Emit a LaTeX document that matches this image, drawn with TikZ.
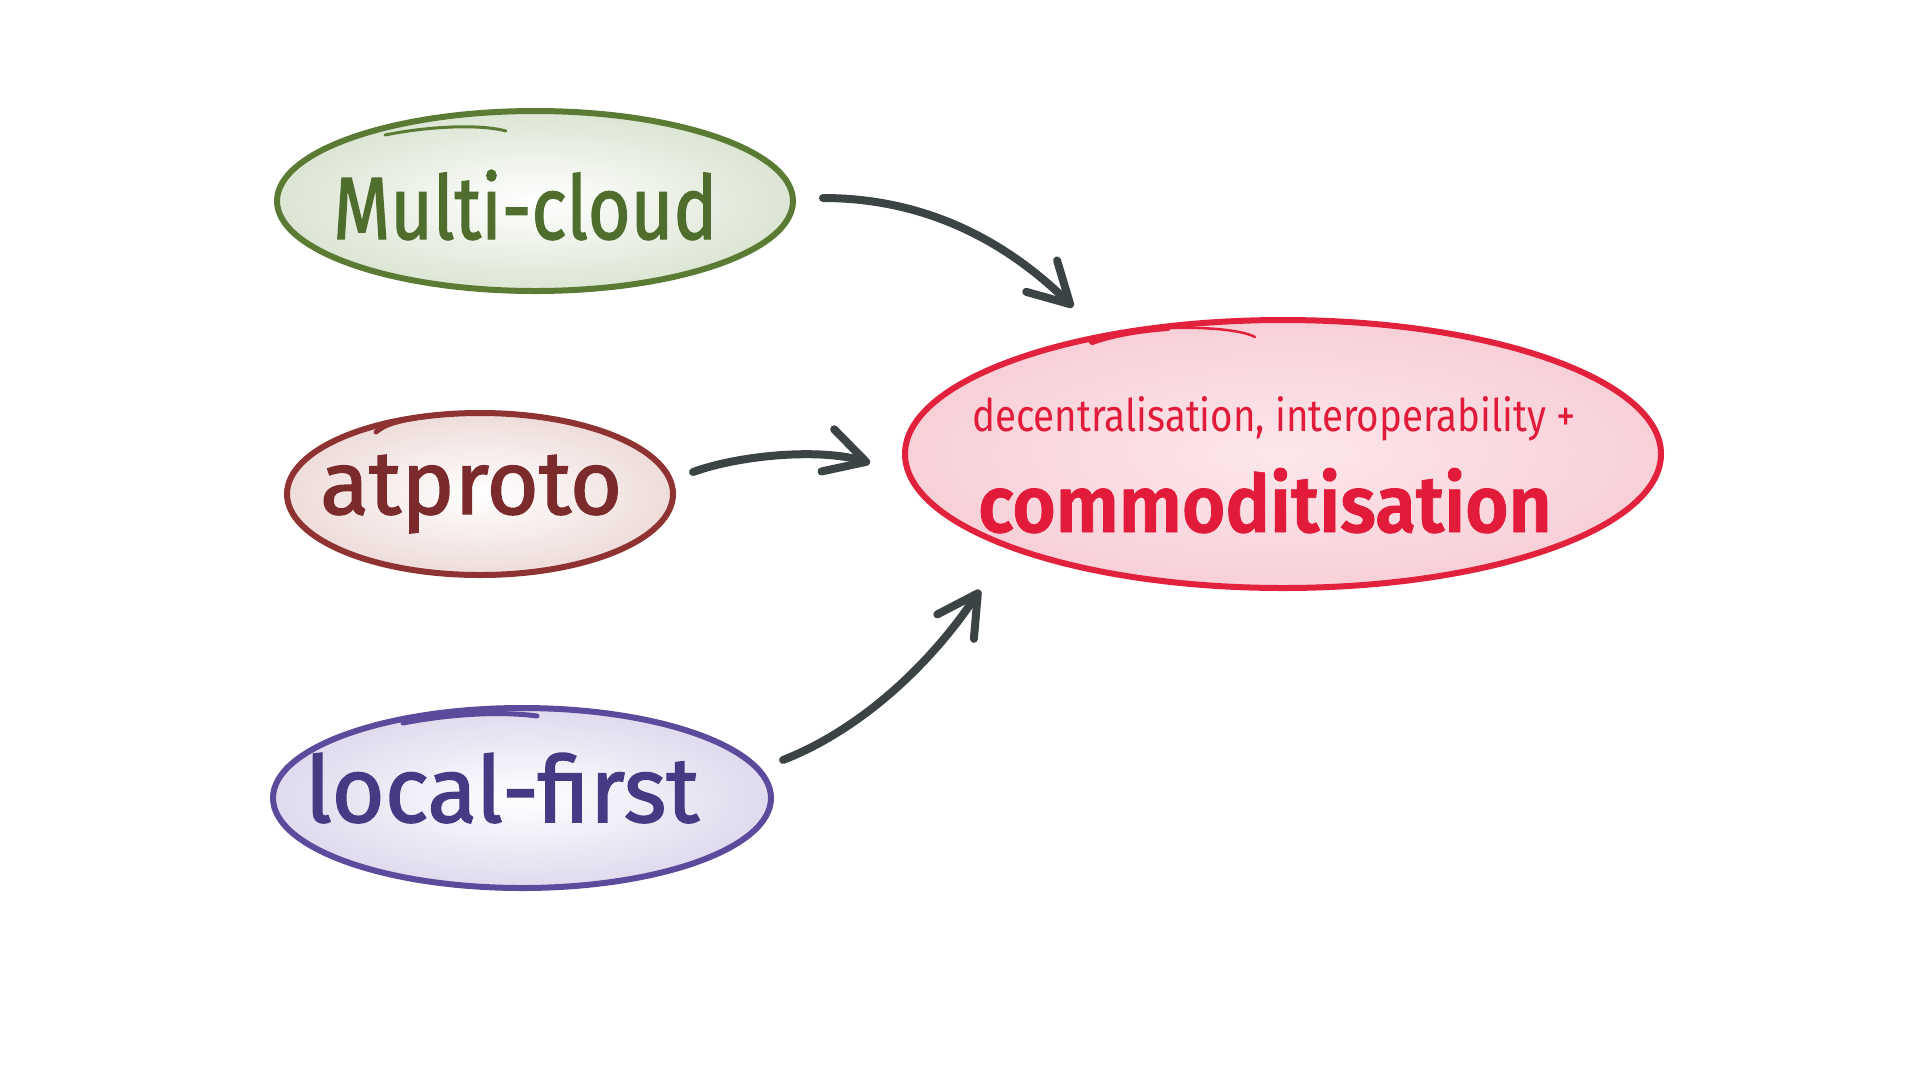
\documentclass[tikz,border=0pt]{standalone}
\usepackage{fontspec}
\setmainfont{Fira Sans}
\newfontfamily\hand[FakeBold=1.6]{Fira Sans}
\newfontfamily\handb[FakeBold=1.0]{Fira Sans SemiBold}
\usetikzlibrary{shapes.geometric,arrows.meta}
\definecolor{mcs}{HTML}{5B7B34}
\definecolor{mct}{HTML}{4F6E2E}
\definecolor{mcf}{HTML}{DCE5D3}
\definecolor{ats}{HTML}{8E3232}
\definecolor{att}{HTML}{7B2B2B}
\definecolor{atf}{HTML}{EEDCD9}
\definecolor{lfs}{HTML}{5C4B9C}
\definecolor{lft}{HTML}{463A85}
\definecolor{lff}{HTML}{DFDAEE}
\definecolor{cms}{HTML}{E2213D}
\definecolor{cmt}{HTML}{E31B3B}
\definecolor{cmf}{HTML}{F8D0D7}
\definecolor{arr}{HTML}{3B4345}
\newcommand{\fitbox}[3]{\resizebox{#1pt}{#2pt}{#3}}
\tikzset{
  blob/.style={ellipse, inner sep=0pt, line width=6pt},
  tail/.style={line width=5pt, line cap=round},
  lbl/.style={anchor=base west, inner sep=0pt},
  conn/.style={line width=8pt, draw=arr, line cap=round,
    -{Straight Barb[length=40pt,width=44pt,round]}},
}
\begin{document}
\begin{tikzpicture}[x=1pt,y=-1pt]
\useasboundingbox[fill=white] (0,0) rectangle (1920,1080);
% ellipses
\node[blob, draw=mcs, inner color=white, outer color=mcf, minimum width=516pt, minimum height=180pt] (mc) at (535,201) {};
\node[blob, draw=ats, inner color=white, outer color=atf, minimum width=386pt, minimum height=162pt] (at) at (480,494) {};
\node[blob, draw=lfs, inner color=white, outer color=lff, minimum width=498pt, minimum height=180pt] (lf) at (522,798) {};
\node[blob, draw=cms, inner color=white!50!cmf, outer color=cmf, minimum width=756pt, minimum height=268pt] (com) at (1283,454) {};
% pen-start strokes
\draw[tail, draw=mcs, line width=3pt] (385,135) .. controls (430,126) and (480,124) .. (506,131);
\draw[tail, draw=ats] (376,432) .. controls (385,424) and (400,420) .. (428,416);
\draw[tail, draw=lfs] (403,723) .. controls (450,714) and (500,711) .. (537,716);
\draw[tail, draw=cms, line width=6pt] (1092,342) .. controls (1115,334) and (1140,330) .. (1168,328);
\draw[tail, draw=cms, line width=2.5pt] (1168,328) .. controls (1200,327) and (1240,329) .. (1255,337);
% labels
\node[lbl, text=mct] (mclbl) at (333,239) {\fitbox{384}{69}{\hand Multi-cloud}};
\node[lbl, text=att] (atlbl) at (320,514) {\fitbox{302}{59}{\hand atproto}};
\node[lbl, text=lft] (lflbl) at (305,822) {\fitbox{394}{69}{\hand local-first}};
\node[lbl, text=cmt] (cmsub) at (972,431) {\fitbox{603}{35}{decentralisation, interoperability +}};
\node[lbl, text=cmt] (cmmain) at (978,532) {\fitbox{573}{64}{\handb commoditisation}};
% connector end points
\coordinate (a1s) at (823,198);
\coordinate (a1e) at (1073,307);
\coordinate (a2s) at (693,472);
\coordinate (a2e) at (870,463);
\coordinate (a3s) at (783,760);
\coordinate (a3e) at (980,590);
% connectors
\draw[conn] (a1s) .. controls (930,198) and (1010,245) .. (a1e);
\draw[conn] (a2s) .. controls (740,455) and (820,448) .. (a2e);
\draw[conn] (a3s) .. controls (860,730) and (930,665) .. (a3e);
\end{tikzpicture}
\end{document}
